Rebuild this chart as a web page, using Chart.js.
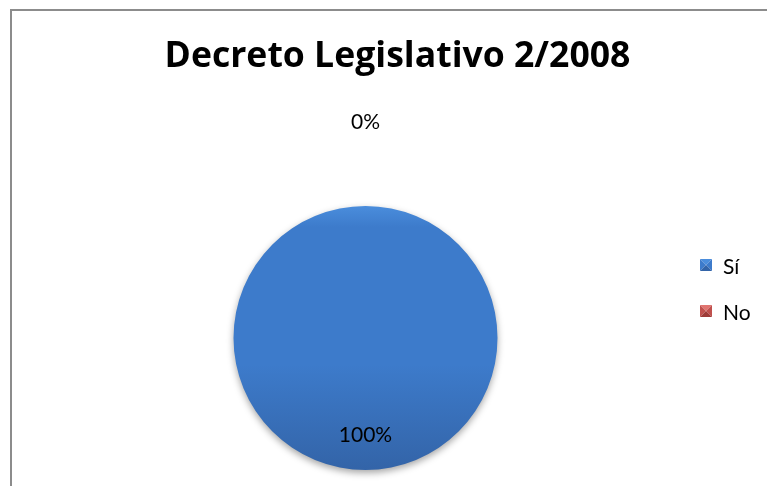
<!DOCTYPE html>
<html>
<head>
<meta charset="utf-8">
<script src="https://cdn.jsdelivr.net/npm/chart.js@4/dist/chart.umd.min.js"></script>
<style>
  html, body { margin: 0; padding: 0; background: #ffffff; }
  #wrap { position: relative; width: 767px; height: 486px; }
  #frame { position: absolute; left: 10px; top: 9px; right: 0; bottom: 0;
           border-left: 2px solid #8c8c8c; border-top: 2px solid #8c8c8c; }
  canvas { position: absolute; left: 0; top: 0; }
</style>
</head>
<body>
<div id="wrap">
  <div id="frame"></div>
  <canvas id="c" width="767" height="486"></canvas>
</div>
<script>
const chartTitle = "Decreto Legislativo 2/2008";
const categories = ["Sí", "No"];
const values = [100, 0];
const baseColors = ["#3d7bcb", "#c0504d"];
const lightColors = ["#4a8ddc", "#e07470"];
const darkColors = ["#3364a8", "#9e3b38"];

const FONT = "Lato, 'Open Sans', 'Liberation Sans', sans-serif";
const TITLE_FONT = "'Open Sans', 'Noto Sans', 'Liberation Sans', sans-serif";

function sliceFill(ctx) {
  const chart = ctx.chart;
  const area = chart.chartArea;
  const i = ctx.dataIndex;
  if (!area) return baseColors[i];
  const g = chart.ctx.createLinearGradient(0, area.top, 0, area.bottom);
  g.addColorStop(0, lightColors[i]);
  g.addColorStop(0.08, baseColors[i]);
  g.addColorStop(0.6, baseColors[i]);
  g.addColorStop(1, darkColors[i]);
  return g;
}

const shadowPlugin = {
  id: 'pieShadow',
  beforeDatasetDraw(chart) {
    const c = chart.ctx;
    c.save();
    c.shadowColor = 'rgba(0,0,0,0.35)';
    c.shadowBlur = 7;
    c.shadowOffsetY = 3;
  },
  afterDatasetDraw(chart) {
    chart.ctx.restore();
  }
};

const titlePlugin = {
  id: 'wideTitle',
  afterDraw(chart) {
    const c = chart.ctx;
    c.save();
    c.font = "bold 100px " + TITLE_FONT;
    const w = c.measureText(chartTitle).width;
    const size = 100 * 466 / w;
    c.font = "bold " + size.toFixed(1) + "px " + TITLE_FONT;
    c.fillStyle = "#000000";
    c.textAlign = "center";
    c.textBaseline = "middle";
    c.fillText(chartTitle, 397.5, 57);
    c.restore();
  }
};

const labelPlugin = {
  id: 'sliceLabels',
  afterDraw(chart) {
    const c = chart.ctx;
    const meta = chart.getDatasetMeta(0);
    const data = chart.data.datasets[0].data;
    const total = data.reduce((a, b) => a + b, 0);
    c.save();
    c.font = "21px " + FONT;
    c.fillStyle = "#000000";
    c.textAlign = "center";
    c.textBaseline = "middle";
    meta.data.forEach((arc, i) => {
      const p = arc.getProps(['x', 'y', 'startAngle', 'endAngle', 'outerRadius'], true);
      const mid = (p.startAngle + p.endAngle) / 2;
      const frac = total ? data[i] / total : 0;
      const dist = frac > 0.05 ? p.outerRadius * 0.74 : p.outerRadius + 84;
      const lx = p.x + Math.cos(mid) * dist;
      const ly = p.y + Math.sin(mid) * dist;
      c.fillText(Math.round(frac * 100) + "%", lx, ly);
    });
    c.restore();

    // legend
    c.save();
    const lx = 700, ly0 = 265, step = 46, box = 12;
    c.font = "21px " + FONT;
    c.textBaseline = "middle";
    c.textAlign = "left";
    chart.data.labels.forEach((lab, i) => {
      const y = ly0 + i * step;
      const x0 = lx, y0 = y - box / 2, cx = x0 + box / 2, cy = y;
      const tri = (pts, col) => {
        c.beginPath();
        c.moveTo(pts[0][0], pts[0][1]);
        c.lineTo(pts[1][0], pts[1][1]);
        c.lineTo(pts[2][0], pts[2][1]);
        c.closePath();
        c.fillStyle = col;
        c.fill();
      };
      tri([[x0, y0], [x0 + box, y0], [cx, cy]], lightColors[i]);
      tri([[x0, y0], [x0, y0 + box], [cx, cy]], baseColors[i]);
      tri([[x0 + box, y0], [x0 + box, y0 + box], [cx, cy]], baseColors[i]);
      tri([[x0, y0 + box], [x0 + box, y0 + box], [cx, cy]], darkColors[i]);
      c.fillStyle = "#000000";
      c.fillText(lab, lx + 23, y + 2);
    });
    c.restore();
  }
};

new Chart(document.getElementById('c'), {
  type: 'pie',
  data: {
    labels: categories,
    datasets: [{
      data: values,
      backgroundColor: sliceFill,
      borderWidth: 0
    }]
  },
  options: {
    responsive: false,
    animation: false,
    events: [],
    layout: { padding: { left: 233, right: 269, top: 206, bottom: 16 } },
    plugins: {
      legend: { display: false },
      tooltip: { enabled: false },
      title: { display: false }
    }
  },
  plugins: [shadowPlugin, titlePlugin, labelPlugin]
});
</script>
</body>
</html>
